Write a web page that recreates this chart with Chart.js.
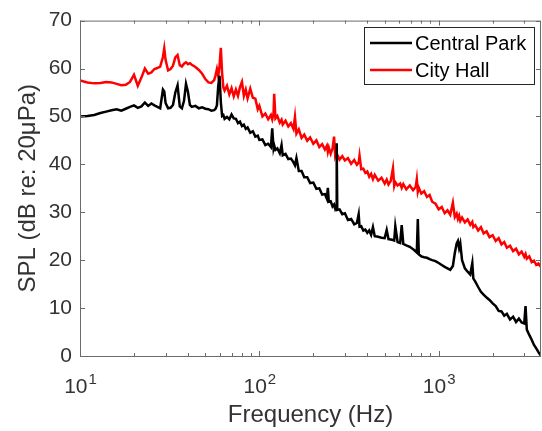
<!DOCTYPE html>
<html>
<head>
<meta charset="utf-8">
<title>SPL spectra</title>
<script src="https://cdn.jsdelivr.net/npm/chart.js@4.4.1/dist/chart.umd.min.js"></script>
<style>
  html, body { margin: 0; padding: 0; background: #fff; }
  #spl { display: block; }
</style>
</head>
<body>
<canvas id="spl" width="542" height="431"></canvas>
<script>
// frequency bins (Hz) shared by both spectra
const freqHz = [
    10, 11, 12, 13, 14, 15, 16, 17, 18, 19,
    20, 21, 22, 23, 24, 25, 26, 27, 28, 29,
    29.5, 30, 31, 32, 33, 34, 35, 36, 37, 38,
    39, 40, 41, 42, 44, 46, 48, 50, 52, 54,
    56, 57, 58, 59, 60, 61, 62, 63, 64, 66,
    68, 70, 72, 74, 76, 78, 80, 82, 84, 86,
    89, 92, 95, 98, 100, 104, 108, 112, 116, 118,
    120, 121, 123, 126, 130, 133, 135, 140, 145, 150,
    155, 158, 161, 166, 172, 178, 185, 192, 200, 208,
    216, 224, 232, 238, 241, 244, 250, 256, 261, 265,
    268, 270, 272, 280, 290, 300, 312, 325, 338, 350,
    358, 362, 370, 380, 390, 400, 410, 420, 430, 440,
    460, 480, 500, 513, 525, 540, 556, 565, 573, 590,
    610, 622, 635, 660, 690, 720, 745, 755, 765, 775,
    800, 830, 860, 890, 920, 960, 1000, 1040, 1080, 1120,
    1160, 1200, 1230, 1260, 1280, 1300, 1320, 1350, 1400, 1450,
    1500, 1540, 1560, 1600, 1660, 1720, 1780, 1850, 1920, 2000,
    2080, 2160, 2240, 2320, 2400, 2500, 2600, 2700, 2800, 2900,
    3000, 3050, 3100, 3200, 3300, 3400, 3500, 3600, 3720
];

// SPL in dB re 20 uPa
const centralPark = [
    50.0, 50.1, 50.3, 50.7, 51.0, 51.3, 51.5, 51.2, 51.6, 52.0,
    52.3, 51.8, 52.1, 52.9, 52.2, 52.7, 52.3, 52.0, 51.7, 55.6,
    55.2, 52.8, 51.7, 51.8, 52.4, 55.0, 56.5, 52.1, 51.7, 53.2,
    56.8, 55.1, 52.4, 52.0, 52.2, 51.7, 51.9, 51.6, 51.5, 51.2,
    51.3, 51.6, 52.3, 56.4, 58.5, 53.0, 50.1, 50.3, 49.5, 49.9,
    49.4, 50.4, 49.6, 49.5, 48.6, 48.9, 48.0, 48.3, 47.4, 47.7,
    46.6, 46.9, 45.8, 46.0, 45.1, 45.2, 44.0, 44.3, 43.6, 47.5,
    43.4, 44.0, 43.0, 43.3, 42.3, 44.0, 41.9, 42.2, 41.1, 41.2,
    40.4, 39.8, 41.3, 38.6, 38.6, 37.3, 37.3, 36.1, 36.2, 34.9,
    35.0, 33.7, 33.8, 32.8, 35.1, 32.2, 32.3, 31.2, 31.6, 30.7,
    31.1, 44.4, 30.5, 30.6, 29.6, 29.8, 28.4, 28.6, 27.5, 27.8,
    29.6, 27.0, 27.1, 26.2, 26.4, 25.7, 26.2, 25.3, 26.9, 25.0,
    24.9, 24.7, 24.6, 26.3, 24.4, 24.3, 24.2, 24.1, 27.1, 23.8,
    23.6, 27.3, 23.4, 23.1, 22.8, 22.3, 21.8, 21.6, 28.6, 21.2,
    20.8, 20.6, 20.5, 20.2, 20.0, 19.8, 19.4, 19.0, 18.6, 18.3,
    18.0, 18.8, 21.5, 23.5, 24.0, 22.5, 23.5, 20.0, 18.3, 17.6,
    17.0, 19.4, 16.2, 15.5, 14.4, 13.4, 12.8, 12.2, 11.7, 11.0,
    10.4, 9.4, 9.3, 8.4, 8.8, 7.6, 8.2, 7.1, 7.8, 7.0,
    6.8, 10.4, 5.5, 4.4, 3.4, 2.3, 1.6, 0.8, 0.0
];

const cityHall = [
    57.5, 57.1, 56.9, 57.0, 57.2, 57.1, 56.8, 56.5, 56.6, 57.2,
    58.7, 56.4, 58.1, 60.0, 58.9, 59.2, 59.9, 60.1, 60.4, 62.4,
    64.2, 61.8, 59.6, 59.9, 60.6, 62.3, 62.8, 60.7, 60.4, 61.0,
    61.3, 60.9, 61.1, 60.8, 60.3, 59.7, 58.9, 57.8, 57.1, 57.0,
    57.6, 58.6, 59.9, 58.4, 60.6, 64.3, 59.0, 56.1, 55.4, 56.4,
    54.6, 55.9, 54.2, 55.6, 54.3, 56.1, 57.2, 54.3, 55.6, 53.8,
    55.8, 53.9, 53.7, 51.5, 52.2, 50.0, 50.6, 49.4, 50.3, 49.4,
    50.6, 54.7, 49.6, 50.1, 48.7, 49.3, 48.3, 49.1, 47.9, 48.6,
    47.4, 49.9, 46.4, 47.3, 45.5, 46.2, 44.9, 45.6, 44.3, 45.0,
    43.6, 44.2, 43.1, 43.9, 42.6, 43.5, 42.2, 43.3, 45.8, 41.7,
    42.2, 41.4, 42.0, 41.0, 41.7, 40.8, 41.3, 40.1, 40.9, 39.9,
    40.4, 41.8, 39.0, 39.1, 38.2, 38.5, 37.4, 38.0, 36.9, 37.8,
    36.6, 37.2, 36.0, 36.8, 35.8, 36.5, 39.2, 35.5, 36.3, 35.6,
    36.0, 35.1, 35.9, 34.8, 35.6, 34.6, 35.3, 36.9, 34.3, 35.1,
    33.9, 34.4, 33.2, 33.6, 32.2, 31.8, 30.6, 31.1, 29.8, 30.4,
    29.5, 32.0, 29.0, 29.7, 28.6, 29.3, 28.2, 28.9, 27.9, 28.5,
    27.4, 28.0, 26.9, 27.3, 26.2, 26.9, 25.6, 26.0, 24.8, 25.2,
    24.0, 24.6, 23.3, 23.8, 22.6, 23.0, 21.9, 22.4, 21.2, 21.8,
    20.7, 21.3, 20.3, 20.8, 19.6, 19.9, 19.0, 19.3, 18.6
];

const seriesNames = ['Central Park', 'City Hall'];
const seriesColors = ['#000000', '#ff0000'];
const decadeTicks = [10, 100, 1000];

const fontFamily = "'Liberation Sans', Arial, Helvetica, sans-serif";
const textColor = '#333333';
const axisColor = '#6b6b6b';

function toPoints(values) {
    return freqHz.map((f, i) => ({ x: f, y: values[i] }));
}

// MATLAB-style box: inward ticks on all four sides, decade labels, legend inside
const axesBox = {
    id: 'axesBox',
    afterDraw(chart) {
        const ctx = chart.ctx;
        const area = chart.chartArea;
        const xs = chart.scales.x;
        const ys = chart.scales.y;
        ctx.save();
        ctx.strokeStyle = axisColor;
        ctx.lineWidth = 1;
        ctx.strokeRect(area.left + 0.5, area.top + 0.5, area.right - area.left - 1, area.bottom - area.top);

        ctx.beginPath();
        xs.ticks.forEach(t => {
            const v = t.value;
            const mant = v / Math.pow(10, Math.floor(Math.log10(v) + 1e-9));
            if (Math.abs(mant - Math.round(mant)) > 1e-6) return;
            const px = Math.round(xs.getPixelForValue(v)) + 0.5;
            const len = Math.abs(mant - 1) < 1e-6 ? 5 : 3;
            ctx.moveTo(px, area.bottom);
            ctx.lineTo(px, area.bottom - len);
            ctx.moveTo(px, area.top);
            ctx.lineTo(px, area.top + len);
        });
        ys.ticks.forEach(t => {
            const py = Math.round(ys.getPixelForValue(t.value)) + 0.5;
            ctx.moveTo(area.left, py);
            ctx.lineTo(area.left + 5, py);
            ctx.moveTo(area.right, py);
            ctx.lineTo(area.right - 5, py);
        });
        ctx.stroke();

        // 10^n labels under the decades
        ctx.fillStyle = textColor;
        ctx.textBaseline = 'alphabetic';
        ctx.textAlign = 'left';
        decadeTicks.forEach(v => {
            const exp = String(Math.round(Math.log10(v)));
            ctx.font = '21px ' + fontFamily;
            const wBase = ctx.measureText('10').width;
            ctx.font = '15px ' + fontFamily;
            const wExp = ctx.measureText(exp).width;
            const x0 = xs.getPixelForValue(v) - (wBase + wExp) / 2;
            ctx.font = '21px ' + fontFamily;
            ctx.fillText('10', x0, 393);
            ctx.font = '15px ' + fontFamily;
            ctx.fillText(exp, x0 + wBase + 1, 384);
        });

        // legend
        const lx = 364, ly = 27, lw = 170, lh = 57;
        ctx.fillStyle = '#ffffff';
        ctx.fillRect(lx, ly, lw, lh);
        ctx.strokeStyle = '#262626';
        ctx.lineWidth = 1;
        ctx.strokeRect(lx + 0.5, ly + 0.5, lw, lh);
        ctx.font = '20px ' + fontFamily;
        ctx.textBaseline = 'middle';
        chart.data.datasets.forEach((ds, i) => {
            const yy = ly + 16 + i * 27;
            ctx.strokeStyle = ds.borderColor;
            ctx.lineWidth = 2.5;
            ctx.beginPath();
            ctx.moveTo(lx + 6, yy);
            ctx.lineTo(lx + 48, yy);
            ctx.stroke();
            ctx.fillStyle = '#000000';
            ctx.fillText(ds.label, lx + 51, yy + 1);
        });
        ctx.restore();
    }
};

new Chart(document.getElementById('spl'), {
    type: 'line',
    data: {
        datasets: [
            {
                label: seriesNames[0],
                data: toPoints(centralPark),
                borderColor: seriesColors[0],
                borderWidth: 2.5,
                pointRadius: 0,
                tension: 0,
                fill: false
            },
            {
                label: seriesNames[1],
                data: toPoints(cityHall),
                borderColor: seriesColors[1],
                borderWidth: 2.5,
                pointRadius: 0,
                tension: 0,
                fill: false
            }
        ]
    },
    options: {
        responsive: false,
        animation: false,
        devicePixelRatio: 1,
        layout: { padding: { top: 16, right: 1, left: 0, bottom: 0 } },
        plugins: {
            legend: { display: false },
            tooltip: { enabled: false }
        },
        scales: {
            x: {
                type: 'logarithmic',
                min: 10,
                max: 3720,
                grid: { display: false, drawTicks: false },
                border: { display: false },
                ticks: { display: false },
                title: {
                    display: true,
                    text: 'Frequency (Hz)',
                    color: textColor,
                    font: { size: 24, family: fontFamily },
                    padding: { top: 0, bottom: 1 }
                },
                afterFit(scale) { scale.height = 75; }
            },
            y: {
                min: 0,
                max: 70,
                grid: { display: false, drawTicks: false },
                border: { display: false },
                ticks: {
                    stepSize: 10,
                    color: textColor,
                    padding: 8,
                    font: { size: 21, family: fontFamily }
                },
                title: {
                    display: true,
                    text: 'SPL (dB re: 20\u03BCPa)',
                    color: textColor,
                    font: { size: 24, family: fontFamily },
                    padding: { top: 14, bottom: 0 }
                },
                afterFit(scale) { scale.width = 80; }
            }
        }
    },
    plugins: [axesBox]
});
</script>
</body>
</html>
